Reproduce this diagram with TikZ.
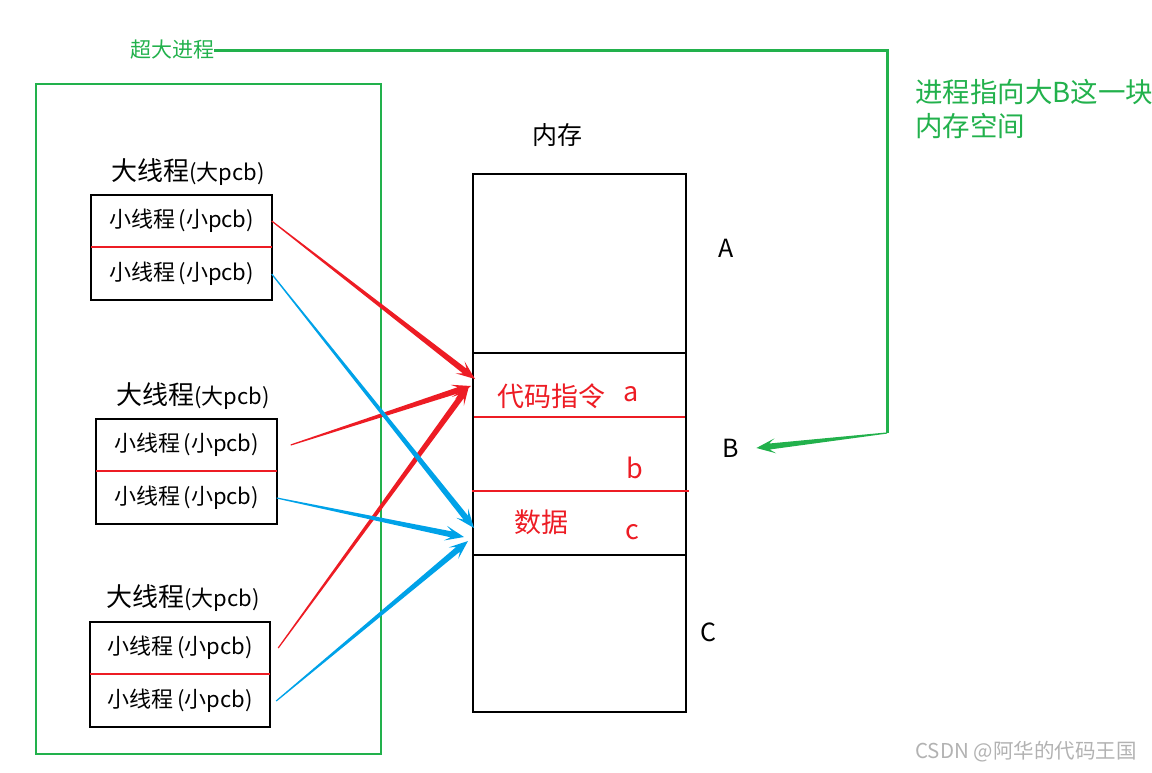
\documentclass[tikz,border=0pt]{standalone}
\usepackage{fontspec}
\setmainfont{Noto Sans CJK SC}
\usepackage{xcolor}
\usepackage{tikz}
\usetikzlibrary{calc}

\definecolor{pred}{RGB}{237,28,36}
\definecolor{pblue}{RGB}{0,162,232}
\definecolor{pgreen}{RGB}{34,177,76}

% tapered arrow: colour, from, to
\newcommand{\wedgearrow}[3]{%
  \coordinate (wn) at ($(#3)!13pt!(#2)$);
  \coordinate (wb) at ($(#3)!19pt!(#2)$);
  \fill[#1] ($(#2)!0.6pt!90:(#3)$) -- ($(wn)!3pt!90:(#3)$) -- ($(wb)!7.5pt!90:(#3)$)
    -- (#3) -- ($(wb)!7.5pt!-90:(#3)$) -- ($(wn)!3pt!-90:(#3)$)
    -- ($(#2)!0.6pt!-90:(#3)$) -- cycle;}

\begin{document}
\begin{tikzpicture}[x=1pt,y=-1pt,
  subrow/.style={font=\fontsize{22}{24}\selectfont,minimum width=180pt,
    minimum height=52pt,inner sep=0pt},
  bigrow/.style={font=\fontsize{22}{26}\selectfont,inner sep=0pt},
  memtxt/.style={font=\fontsize{25}{28}\selectfont,inner sep=0pt},
  redtxt/.style={font=\fontsize{27}{30}\selectfont,inner sep=0pt,text=pred}]

  \useasboundingbox (0,0) rectangle (1152,772);

  %% big process
  \node[font=\fontsize{21}{24}\selectfont,text=pgreen,inner sep=0pt] (huge) at (172,50) {超大进程};
  \coordinate (turn1) at (887,50);
  \coordinate (turn2) at (887,433);
  \draw[pgreen,line width=2pt] (36,84) rectangle (381,754);
  \node[font=\fontsize{27.5}{34}\selectfont,text=pgreen,align=left,anchor=west,inner sep=0pt]
    (note) at (915,109) {进程指向大B这一块\\内存空间};

  %% threads
  \node[bigrow] (g1) at (188,172) {{\fontsize{26}{26}\selectfont 大线程}(大pcb)};
  \node[subrow] (t11) at (181.5,221) {小线程\,(小pcb)};
  \node[subrow] (t12) at (181.5,274) {小线程\,(小pcb)};
  \draw[line width=2pt] (t11.north west) rectangle (t12.south east);
  \draw[pred,line width=2pt] (t11.south west) -- (t11.south east);

  \node[bigrow] (g2) at (193,396) {{\fontsize{26}{26}\selectfont 大线程}(大pcb)};
  \node[subrow] (t21) at (186.5,445) {小线程\,(小pcb)};
  \node[subrow] (t22) at (186.5,498) {小线程\,(小pcb)};
  \draw[line width=2pt] (t21.north west) rectangle (t22.south east);
  \draw[pred,line width=2pt] (t21.south west) -- (t21.south east);

  \node[bigrow] (g3) at (183,598) {{\fontsize{26}{26}\selectfont 大线程}(大pcb)};
  \node[subrow] (t31) at (180,648) {小线程\,(小pcb)};
  \node[subrow] (t32) at (180,701) {小线程\,(小pcb)};
  \draw[line width=2pt] (t31.north west) rectangle (t32.south east);
  \draw[pred,line width=2pt] (t31.south west) -- (t31.south east);

  %% memory
  \node[memtxt] (mlabel) at (557,135) {内存};
  \node[draw,line width=2pt,minimum width=213pt,minimum height=538pt,inner sep=0pt]
    (mem) at (579.5,443) {};
  \draw[line width=2pt] ($(mem.north west)+(0,180)$) -- ($(mem.north east)+(0,180)$);
  \draw[line width=2pt] ($(mem.north west)+(0,382)$) -- ($(mem.north east)+(0,382)$);
  \draw[pred,line width=2pt] ($(mem.north west)+(2,244)$) -- ($(mem.north east)+(-2,244)$);
  \draw[pred,line width=2pt] ($(mem.north west)+(0,318)$) -- ($(mem.north east)+(2,318)$);

  \node[memtxt] (A) at (726,248) {A};
  \node[memtxt] (B) at (731,448) {B};
  \node[memtxt] (C) at (708,632) {C};
  \node[redtxt] (code) at (551,396) {代码指令};
  \node[redtxt] (a) at (631,394) {a};
  \node[redtxt] (b) at (635,468) {b};
  \node[redtxt] (data) at (541,522) {数据};
  \node[redtxt] (c) at (632,532) {c};

  %% arrow ends
  \coordinate (s21) at ([xshift=14pt]t21.east);
  \coordinate (s31) at ([xshift=8pt]t31.east);
  \coordinate (s32) at ([xshift=6pt]t32.east);
  \coordinate (r1) at (475,379);
  \coordinate (r2) at (471,386);
  \coordinate (r3) at (469,386);
  \coordinate (q1) at (474,528);
  \coordinate (q2) at (464,537);
  \coordinate (q3) at (468,541);
  \coordinate (Bin) at ([xshift=17pt]B.east);

  \wedgearrow{pred}{t11.east}{r1}
  \wedgearrow{pred}{s21}{r2}
  \wedgearrow{pred}{s31}{r3}
  \wedgearrow{pblue}{t12.east}{q1}
  \wedgearrow{pblue}{t22.east}{q2}
  \wedgearrow{pblue}{s32}{q3}

  \draw[pgreen,line width=3pt] (huge.east) -- (turn1) -- (turn2);
  \wedgearrow{pgreen}{turn2}{Bin}

  \node[font=\fontsize{20.5}{22}\selectfont,text=black!30,inner sep=0pt] (mark) at (1026,752)
    {CSDN @阿华的代码王国};
\end{tikzpicture}
\end{document}
